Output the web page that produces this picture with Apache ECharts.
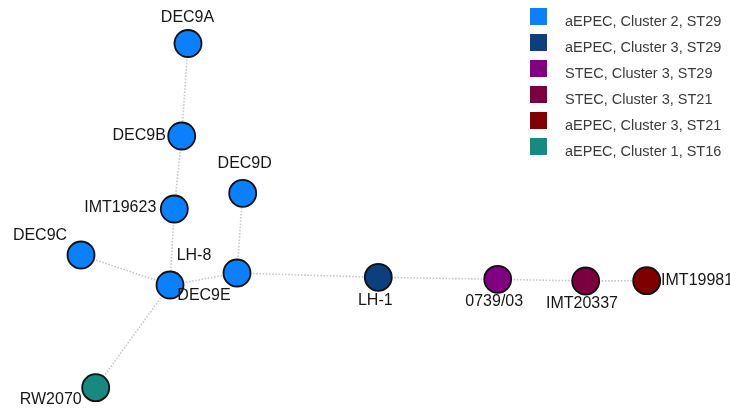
<!DOCTYPE html>
<html>
<head>
<meta charset="utf-8">
<script src="https://cdn.jsdelivr.net/npm/echarts@6/dist/echarts.min.js"></script>
<style>html,body{margin:0;padding:0;background:#fff}#c{width:730px;height:416px}</style>
</head>
<body>
<div id="c"></div>
<script>
// Legend categories (name, colour)
const categories = [
  'aEPEC, Cluster 2, ST29',
  'aEPEC, Cluster 3, ST29',
  'STEC, Cluster 3, ST29',
  'STEC, Cluster 3, ST21',
  'aEPEC, Cluster 3, ST21',
  'aEPEC, Cluster 1, ST16'
];
const categoryColors = ['#0a80ff', '#0b3f7e', '#800080', '#7c0040', '#800000', '#168a80'];

// Nodes: name, category index, layout position
const nodeNames = ['DEC9A','DEC9B','IMT19623','DEC9C','DEC9D','DEC9E','LH-8','RW2070','LH-1','0739/03','IMT20337','IMT19981'];
const nodeCategory = [0,0,0,0,0,0,0,5,1,2,3,4];
const nodeX = [188, 181.7, 174.3, 81, 242.7, 170, 237, 95.7, 378.3, 497.7, 585.7, 646.7];
const nodeY = [43.5, 136, 209, 255, 193.3, 285, 273, 387.7, 277.3, 279.3, 281, 280.7];

// Edges (source, target)
const edgeSource = ['DEC9A','DEC9B','IMT19623','DEC9C','DEC9E','DEC9E','LH-8','LH-8','LH-1','0739/03','IMT20337'];
const edgeTarget = ['DEC9B','IMT19623','DEC9E','DEC9E','RW2070','LH-8','DEC9D','LH-1','0739/03','IMT20337','IMT19981'];

// label offsets from node centre
const labelDX = [-0.5, -42.5, -54, -41, 2, 34, -43, -45, -3, -3.5, -3.7, null];
const labelDY = [-26, 0, -1, -19, -30, 11, -17, 12, 23.5, 22.4, 23, null];

const data = nodeNames.map((n, i) => {
  const item = {
    name: n,
    value: [nodeX[i], nodeY[i]],
    category: nodeCategory[i]
  };
  if (labelDX[i] === null) {
    item.label = { position: 'right', distance: 0 };
  } else {
    item.label = { position: 'inside', offset: [labelDX[i], labelDY[i]] };
  }
  return item;
});
const links = edgeSource.map((s, i) => ({ source: s, target: edgeTarget[i] }));

const chart = echarts.init(document.getElementById('c'), null, { renderer: 'canvas' });
chart.setOption({
  animation: false,
  backgroundColor: '#fff',
  grid: { left: 0, right: 0, top: 0, bottom: 0 },
  xAxis: { type: 'value', min: 0, max: 730, show: false },
  yAxis: { type: 'value', min: 0, max: 416, inverse: true, show: false },
  legend: {
    orient: 'vertical',
    left: 525,
    top: 3,
    itemWidth: 30,
    itemHeight: 27,
    itemGap: -1,
    icon: 'path://M0,0H17V17H0Z M30,27',
    data: categories,
    itemStyle: { borderWidth: 0 },
    textStyle: {
      fontFamily: 'Liberation Sans, Arial, sans-serif',
      fontSize: 14.5,
      color: '#3a3a3a'
    }
  },
  series: [{
    type: 'graph',
    layout: 'none',
    coordinateSystem: 'cartesian2d',
    symbol: 'circle',
    symbolSize: 27,
    categories: categories.map((c, i) => ({ name: c, itemStyle: { color: categoryColors[i] } })),
    itemStyle: { borderColor: '#111', borderWidth: 1.8 },
    label: {
      show: true,
      fontFamily: 'Liberation Sans, Arial, sans-serif',
      fontSize: 16,
      color: '#161616'
    },
    lineStyle: { color: '#c8c8c8', width: 1.6, type: 'dotted', opacity: 1, curveness: 0 },
    emphasis: { disabled: true },
    data: data,
    links: links,
    z: 2
  }]
});
</script>
</body>
</html>
